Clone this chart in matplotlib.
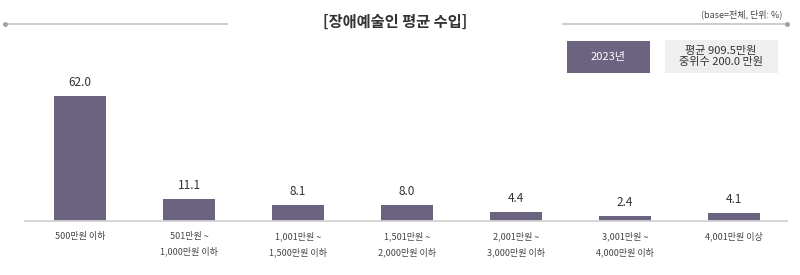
import matplotlib
matplotlib.use("Agg")
import matplotlib.pyplot as plt
from matplotlib.patches import Rectangle

plt.rcParams['font.family'] = ['Noto Sans CJK KR', 'DejaVu Sans']

categories = ["500만원 이하", "501만원 ~\n1,000만원 이하", "1,001만원 ~\n1,500만원 이하",
              "1,501만원 ~\n2,000만원 이하", "2,001만원 ~\n3,000만원 이하",
              "3,001만원 ~\n4,000만원 이하", "4,001만원 이상"]
values = [62.0, 11.1, 8.1, 8.0, 4.4, 2.4, 4.1]
title = "[장애예술인 평균 수입]"
note = "(base=전체, 단위: %)"
year_label = "2023년"
summary = "평균 909.5만원\n중위수 200.0 만원"

bar_color = "#6c6380"

fig = plt.figure(figsize=(8, 2.75), dpi=100)
W, H = 800, 275

ax = fig.add_axes([25 / W, 54 / H, 762 / W, 141 / H])
x = list(range(len(values)))
bars = ax.bar(x, values, width=0.48, color=bar_color)
ax.set_xlim(-0.505, 6.486)
ax.set_ylim(0, 70)
for xi, v in zip(x, values):
    ax.annotate(f"{v:.1f}", (xi, v), xytext=(0, 5), textcoords="offset points",
                ha="center", va="bottom", fontsize=8.5, color="#333333")
for s in ["top", "right", "left"]:
    ax.spines[s].set_visible(False)
ax.spines["bottom"].set_color("#d3d3d3")
ax.spines["bottom"].set_linewidth(1.3)
ax.set_yticks([])
ax.set_xticks(x)
ax.set_xticklabels(categories, fontsize=6.5, color="#444444", linespacing=1.75)
ax.tick_params(axis="x", length=0, pad=8)

def fx(px):
    return px / W
def fy(py):
    return 1 - py / H

fig.add_artist(plt.Line2D([fx(5), fx(227)], [fy(24), fy(24)], color="#c8c8c8", lw=1.3))
fig.add_artist(plt.Line2D([fx(5)], [fy(24)], marker="o", ms=2.5, color="#a0a0a0"))
fig.add_artist(plt.Line2D([fx(563), fx(787)], [fy(24), fy(24)], color="#c8c8c8", lw=1.3))
fig.add_artist(plt.Line2D([fx(787)], [fy(24)], marker="o", ms=2.5, color="#a0a0a0"))

fig.text(fx(395), fy(22), title, ha="center", va="center", fontsize=11,
         fontweight="bold", color="#333333")
fig.text(fx(782), fy(14), note, ha="right", va="center", fontsize=6.5, color="#444444")

fig.add_artist(Rectangle((fx(567), fy(73)), (650 - 567) / W, (73 - 41) / H,
                         transform=fig.transFigure, facecolor=bar_color, edgecolor="none"))
fig.text(fx(608), fy(57), year_label, ha="center", va="center", fontsize=8, color="white")
fig.add_artist(Rectangle((fx(665), fy(73)), (778 - 665) / W, (73 - 40) / H,
                         transform=fig.transFigure, facecolor="#efefef", edgecolor="none"))
fig.text(fx(721), fy(56.5), summary, ha="center", va="center", fontsize=8,
         color="#333333", linespacing=1.15)

fig.savefig("out.png", dpi=100)
